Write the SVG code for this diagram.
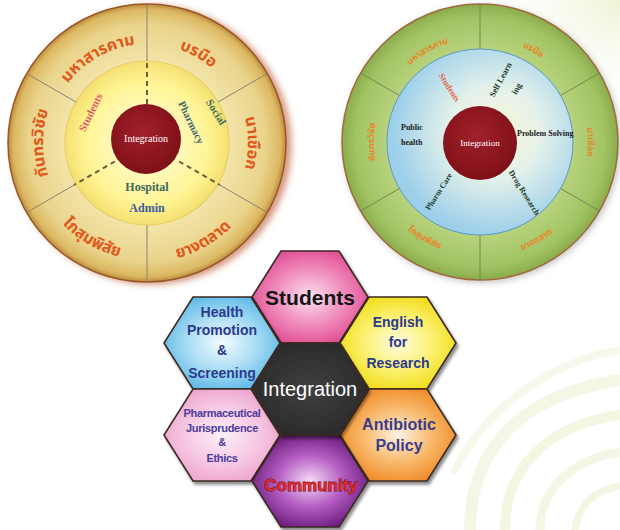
<svg xmlns="http://www.w3.org/2000/svg" width="620" height="530" viewBox="0 0 620 530">
<defs>
<style>
.thaiL{font-family:"Noto Sans Thai","Noto Sans","DejaVu Sans",sans-serif;font-weight:bold;font-size:16px;fill:#e0581c}
.thaiR{font-family:"Noto Sans Thai","Noto Sans","DejaVu Sans",sans-serif;font-weight:bold;font-size:9px;fill:#e8862a}
.ser{font-family:"Liberation Serif",serif;font-weight:bold}
.spoke{stroke:#8c8270;stroke-width:1;fill:none}
.spokeR{stroke:#6f8a58;stroke-width:1;fill:none}
.dashL{stroke:#6e5a3c;stroke-width:2;stroke-dasharray:5,4;fill:none}
.dashR{stroke:#5a6a90;stroke-width:1.6;stroke-dasharray:4,3;fill:none}
.hexs{stroke:#3a2a22;stroke-width:1.6;filter:url(#hsh)}
.ht{font-family:"Liberation Sans",Arial,sans-serif;font-weight:bold;text-anchor:middle;fill:#2c3a8c}
</style>
<radialGradient id="gOutL" cx="50%" cy="50%" r="50%">
<stop offset="0.55" stop-color="#f3e6ac"/><stop offset="0.85" stop-color="#ead48c"/><stop offset="0.96" stop-color="#dcb862"/><stop offset="1" stop-color="#bc8c3c"/>
</radialGradient>
<radialGradient id="gInL" cx="50%" cy="50%" r="50%">
<stop offset="0" stop-color="#fffde2"/><stop offset="0.75" stop-color="#fff494"/><stop offset="1" stop-color="#f4e070"/>
</radialGradient>
<radialGradient id="gOutR" cx="50%" cy="50%" r="50%">
<stop offset="0.62" stop-color="#bcd682"/><stop offset="0.9" stop-color="#a2c464"/><stop offset="1" stop-color="#8aac4c"/>
</radialGradient>
<radialGradient id="gInR" cx="58%" cy="45%" r="55%">
<stop offset="0" stop-color="#fbf8d6"/><stop offset="0.45" stop-color="#e4f1ea"/><stop offset="1" stop-color="#9ccfea"/>
</radialGradient>
<radialGradient id="gRed" cx="45%" cy="40%" r="60%">
<stop offset="0" stop-color="#a2202a"/><stop offset="1" stop-color="#7e1018"/>
</radialGradient>
<radialGradient id="gPink" cx="50%" cy="50%" r="55%"><stop offset="0" stop-color="#fbe0ee"/><stop offset="0.55" stop-color="#f08cbc"/><stop offset="1" stop-color="#e04c92"/></radialGradient>
<radialGradient id="gBlue" cx="50%" cy="50%" r="55%"><stop offset="0" stop-color="#f4fbff"/><stop offset="0.55" stop-color="#a8dcf4"/><stop offset="1" stop-color="#5cb8e6"/></radialGradient>
<radialGradient id="gYel" cx="50%" cy="50%" r="55%"><stop offset="0" stop-color="#fffce0"/><stop offset="0.55" stop-color="#fbf070"/><stop offset="1" stop-color="#f0dc14"/></radialGradient>
<radialGradient id="gDark" cx="50%" cy="50%" r="55%"><stop offset="0" stop-color="#404040"/><stop offset="1" stop-color="#2a2a2a"/></radialGradient>
<radialGradient id="gLPink" cx="50%" cy="50%" r="55%"><stop offset="0" stop-color="#fdf0f8"/><stop offset="0.6" stop-color="#f6c6e2"/><stop offset="1" stop-color="#eea4cc"/></radialGradient>
<radialGradient id="gOra" cx="50%" cy="50%" r="55%"><stop offset="0" stop-color="#fff2e2"/><stop offset="0.55" stop-color="#f8b86a"/><stop offset="1" stop-color="#f08a26"/></radialGradient>
<radialGradient id="gPur" cx="50%" cy="50%" r="55%"><stop offset="0" stop-color="#f6dcf8"/><stop offset="0.5" stop-color="#b660c4"/><stop offset="1" stop-color="#6a1a7c"/></radialGradient>
<radialGradient id="gGlow" cx="100%" cy="0%" r="60%"><stop offset="0" stop-color="#eef3d4"/><stop offset="1" stop-color="#ffffff" stop-opacity="0"/></radialGradient>
<filter id="shL" x="-10%" y="-10%" width="125%" height="125%"><feDropShadow dx="5" dy="2" stdDeviation="3" flood-color="#b24a1e" flood-opacity="0.55"/></filter>
<filter id="shR" x="-10%" y="-10%" width="125%" height="125%"><feDropShadow dx="2" dy="2" stdDeviation="3" flood-color="#606060" flood-opacity="0.35"/></filter>
<filter id="hsh" x="-15%" y="-15%" width="135%" height="140%"><feDropShadow dx="2" dy="3" stdDeviation="1.8" flood-color="#000" flood-opacity="0.45"/></filter>
<polygon id="hex" points="-29,-46 29,-46 58,0 29,46 -29,46 -58,0"/>
<path id="aL1" d="M61.3,93.5 A99,99 0 0 1 147,44"/>
<path id="aL2" d="M147,44 A99,99 0 0 1 232.7,93.5"/>
<path id="aL3" d="M234.5,92.5 A101,101 0 0 1 234.5,193.5"/>
<path id="aL4" d="M147,262 A119,119 0 0 0 250.1,202.5"/>
<path id="aL5" d="M45.7,201.5 A117,117 0 0 0 147,260"/>
<path id="aL6" d="M56.9,195 A104,104 0 0 1 56.9,91"/>
<path id="aR1" d="M389.9,90 A104,104 0 0 1 480,38"/>
<path id="aR2" d="M480,38 A104,104 0 0 1 570.1,90"/>
<path id="aR3" d="M573.5,88 A108,108 0 0 1 573.5,196"/>
<path id="aR4" d="M480,258 A116,116 0 0 0 580.5,200"/>
<path id="aR5" d="M381.3,199 A114,114 0 0 0 480,256"/>
<path id="aR6" d="M388.2,195 A106,106 0 0 1 388.2,89"/>
</defs>

<rect width="620" height="530" fill="#ffffff"/>
<rect x="380" y="0" width="240" height="200" fill="url(#gGlow)"/>
<g id="background-swirl" fill="none" stroke-linecap="round" opacity="0.55">
<path d="M470,530 C470,450 520,395 620,380" stroke="#eef0d2" stroke-width="12"/>
<path d="M505,530 C505,470 545,425 620,415" stroke="#ecefcc" stroke-width="10"/>
<path d="M540,530 C540,490 570,460 620,452" stroke="#eef1d2" stroke-width="9"/>
<path d="M575,530 C578,505 595,490 620,486" stroke="#ecefcc" stroke-width="7"/>
<path d="M455,470 C490,400 560,360 620,350" stroke="#f2f4de" stroke-width="8"/>
</g>

<!-- LEFT WHEEL -->
<g id="wheel-left">
<circle cx="147" cy="143" r="139" fill="url(#gOutL)" stroke="#9a5628" stroke-width="1.5" filter="url(#shL)"/>
<circle cx="147" cy="143" r="82" fill="url(#gInL)" stroke="#e9cf6a" stroke-width="1.2"/>
<g>
<line class="spoke" x1="147" y1="61" x2="147" y2="4"/>
<line class="spoke" x1="147" y1="225" x2="147" y2="282"/>
<line class="spoke" x1="218" y1="102" x2="267.4" y2="73.5"/>
<line class="spoke" x1="218" y1="184" x2="267.4" y2="212.5"/>
<line class="spoke" x1="76" y1="184" x2="26.6" y2="212.5"/>
<line class="spoke" x1="76" y1="102" x2="26.6" y2="73.5"/>
</g>
<text class="thaiL" text-anchor="middle"><textPath href="#aL1" startOffset="50%">มหาสารคาม</textPath></text>
<text class="thaiL" text-anchor="middle"><textPath href="#aL2" startOffset="50%">บรบือ</textPath></text>
<text class="thaiL" text-anchor="middle"><textPath href="#aL3" startOffset="50%">นาเชือก</textPath></text>
<text class="thaiL" text-anchor="middle"><textPath href="#aL4" startOffset="50%">ยางตลาด</textPath></text>
<text class="thaiL" text-anchor="middle"><textPath href="#aL5" startOffset="50%">โกสุมพิสัย</textPath></text>
<text class="thaiL" text-anchor="middle"><textPath href="#aL6" startOffset="50%">กันทรวิชัย</textPath></text>
</g>

<g id="connectors">
<line class="dashL" x1="147" y1="63" x2="147" y2="104"/>
<line class="dashL" x1="115" y1="161.5" x2="74" y2="185"/>
<line class="dashL" x1="179" y1="161.5" x2="220" y2="185"/>
<line class="dashR" x1="480" y1="50" x2="480" y2="106"/>
<line class="dashR" x1="447" y1="162" x2="399" y2="189"/>
<line class="dashR" x1="513" y1="162" x2="561" y2="189"/>
</g>

<g id="left-center">
<circle cx="146" cy="139" r="35" fill="url(#gRed)"/>
<text x="146" y="142" class="ser" style="font-weight:normal" font-size="10" fill="#ffffff" text-anchor="middle">Integration</text>
</g>
<g id="left-students"><text transform="translate(94,114) rotate(-64)" class="ser" font-size="11" fill="#e2566a" text-anchor="middle">Students</text></g>
<g id="left-social-pharmacy">
<text transform="translate(213,114) rotate(58)" class="ser" font-size="11" fill="#3c6a62" text-anchor="middle">Social</text>
<text transform="translate(188,124) rotate(64)" class="ser" font-size="10.5" fill="#3a6470" text-anchor="middle">Pharmacy</text>
</g>
<g id="left-hospital-admin">
<text x="147" y="191" class="ser" font-size="12" fill="#3d6a58" text-anchor="middle">Hospital</text>
<text x="147" y="212" class="ser" font-size="12" fill="#3a5aa4" text-anchor="middle">Admin</text>
</g>

<!-- RIGHT WHEEL -->
<g id="wheel-right">
<circle cx="480" cy="142" r="138" fill="url(#gOutR)" stroke="#a06a3c" stroke-width="1.5" filter="url(#shR)"/>
<circle cx="480" cy="142" r="93" fill="url(#gInR)" stroke="#5c98c4" stroke-width="1"/>
<g>
<line class="spokeR" x1="480" y1="49" x2="480" y2="4"/>
<line class="spokeR" x1="480" y1="235" x2="480" y2="280"/>
<line class="spokeR" x1="560.5" y1="95.5" x2="599.5" y2="73"/>
<line class="spokeR" x1="560.5" y1="188.5" x2="599.5" y2="211"/>
<line class="spokeR" x1="399.5" y1="188.5" x2="360.5" y2="211"/>
<line class="spokeR" x1="399.5" y1="95.5" x2="360.5" y2="73"/>
</g>
<text class="thaiR" text-anchor="middle"><textPath href="#aR1" startOffset="50%">มหาสารคาม</textPath></text>
<text class="thaiR" text-anchor="middle"><textPath href="#aR2" startOffset="50%">บรบือ</textPath></text>
<text class="thaiR" text-anchor="middle"><textPath href="#aR3" startOffset="50%">นาเชือก</textPath></text>
<text class="thaiR" text-anchor="middle"><textPath href="#aR4" startOffset="50%">ยางตลาด</textPath></text>
<text class="thaiR" text-anchor="middle"><textPath href="#aR5" startOffset="50%">โกสุมพิสัย</textPath></text>
<text class="thaiR" text-anchor="middle"><textPath href="#aR6" startOffset="50%">กันทรวิชัย</textPath></text>
</g>
<g id="right-center">
<circle cx="480" cy="143" r="37" fill="url(#gRed)"/>
<text x="480" y="146" class="ser" style="font-weight:normal" font-size="9" fill="#ffffff" text-anchor="middle">Integration</text>
</g>
<g id="right-students"><text transform="translate(447,89) rotate(58)" class="ser" font-size="8.5" fill="#e2603e" text-anchor="middle">Students</text></g>
<g id="right-self-learning">
<text transform="translate(503,81) rotate(-62)" class="ser" font-size="8.5" fill="#1e3a28" text-anchor="middle">Self Learn</text>
<text transform="translate(519,90) rotate(-62)" class="ser" font-size="8.5" fill="#1e3a28" text-anchor="middle">ing</text>
</g>
<g id="right-public-health">
<text x="401" y="130" class="ser" font-size="8" fill="#1a1a1a">Public</text>
<text x="401" y="145" class="ser" font-size="8" fill="#1a1a1a">health</text>
</g>
<g id="right-problem-solving"><text x="517" y="136" class="ser" font-size="8" fill="#1a1a1a">Problem Solving</text></g>
<g id="right-pharm-care"><text transform="translate(441,193) rotate(-57)" class="ser" font-size="8" fill="#1e3a28" text-anchor="middle">Pharm Care</text></g>
<g id="right-research"><text transform="translate(522,194) rotate(58)" class="ser" font-size="8" fill="#1e3a28" text-anchor="middle">Drug Research</text></g>

<!-- HEXAGONS -->
<g id="hex-students">
<use href="#hex" x="310" y="297" fill="url(#gPink)" class="hexs"/>
<text x="310" y="305" class="ht" font-size="21" style="fill:#141414">Students</text>
</g>
<g id="hex-health">
<use href="#hex" x="222" y="343" fill="url(#gBlue)" class="hexs"/>
<text class="ht" font-size="14"><tspan x="222" y="317">Health</tspan><tspan x="222" y="335">Promotion</tspan><tspan x="222" y="355">&amp;</tspan><tspan x="222" y="378">Screening</tspan></text>
</g>
<g id="hex-english">
<use href="#hex" x="398" y="343" fill="url(#gYel)" class="hexs"/>
<text class="ht" font-size="14"><tspan x="398" y="327">English</tspan><tspan x="398" y="347">for</tspan><tspan x="398" y="368">Research</tspan></text>
</g>
<g id="hex-pharma">
<use href="#hex" x="222" y="435" fill="url(#gLPink)" class="hexs"/>
<text class="ht" font-size="11" letter-spacing="-0.3" style="fill:#4a3c9c"><tspan x="222" y="417">Pharmaceutical</tspan><tspan x="222" y="432">Jurisprudence</tspan><tspan x="222" y="446">&amp;</tspan><tspan x="222" y="462">Ethics</tspan></text>
</g>
<g id="hex-antibiotic">
<use href="#hex" x="398" y="435" fill="url(#gOra)" class="hexs"/>
<text class="ht" font-size="16" style="fill:#3a3c8c"><tspan x="399" y="430">Antibiotic</tspan><tspan x="399" y="451">Policy</tspan></text>
</g>
<g id="hex-community">
<use href="#hex" x="310" y="481" fill="url(#gPur)" class="hexs"/>
<text x="311" y="491" class="ht" font-size="17" style="fill:#e42828;stroke:#4a0a14;stroke-width:0.8;paint-order:stroke">Community</text>
</g>
<g id="hex-integration">
<use href="#hex" x="310" y="389" fill="url(#gDark)" class="hexs"/>
<text x="310" y="396" font-family="Liberation Sans, Arial, sans-serif" font-size="20" fill="#ffffff" text-anchor="middle">Integration</text>
</g>
</svg>
